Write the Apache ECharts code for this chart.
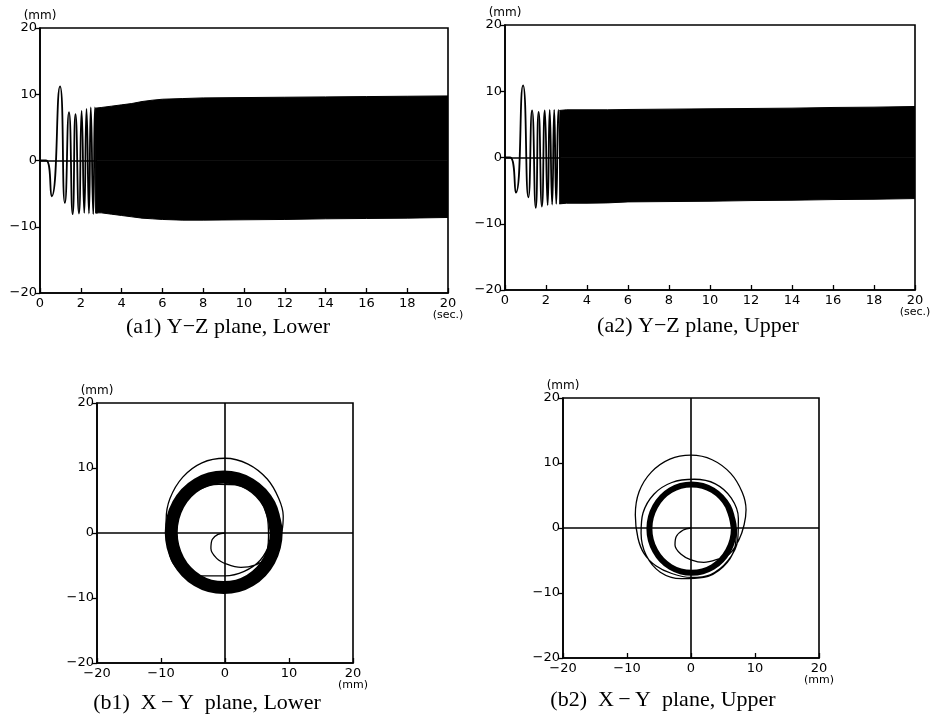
<!DOCTYPE html>
<html><head><meta charset="utf-8">
<script src="https://cdn.jsdelivr.net/npm/echarts@6/dist/echarts.min.js"></script>
<style>html,body{margin:0;padding:0;background:#fff}#c{width:936px;height:720px}</style>
</head><body><div id="c"></div>
<script>
// ---------- tick values ----------
const timeTicks = [0, 2, 4, 6, 8, 10, 12, 14, 16, 18, 20];
const dispTicks = [-20, -10, 0, 10, 20];

// ---------- captions ----------
const captions = ['(a1) Y\u2212Z plane, Lower', '(a2) Y\u2212Z plane, Upper',
                  '(b1)  X\u2009\u2212\u2009Y  plane, Lower', '(b2)  X\u2009\u2212\u2009Y  plane, Upper'];

// ---------- (a1) Y-Z plane, Lower : [time s, displacement mm] ----------
const a1Transient = [[0,0],[0.3,0],[0.57,-5.4],[0.98,11.2],[1.22,-6.4],[1.42,7.3],[1.6,-8.1],
  [1.74,7.0],[1.91,-8.0],[2.04,7.5],[2.17,-7.9],[2.28,7.8],[2.4,-8.0],[2.49,8.0],[2.61,-8.1],[2.69,8.0],[2.78,-8.0]];
const a1Upper = [[2.7,7.9],[3.0,8.0],[3.5,8.2],[4.0,8.4],[4.5,8.6],[5.0,8.9],[5.5,9.1],[6.0,9.25],
  [7.0,9.35],[8.0,9.45],[10,9.5],[12,9.55],[14,9.6],[16,9.65],[18,9.7],[20,9.75]];
const a1Lower = [[2.7,-7.9],[3.0,-7.9],[3.5,-8.1],[4.0,-8.3],[4.5,-8.5],[5.0,-8.7],[5.5,-8.8],[6.0,-8.9],
  [7.0,-9.0],[8.0,-9.0],[10,-8.95],[12,-8.9],[14,-8.8],[16,-8.75],[18,-8.7],[20,-8.6]];

// ---------- (a2) Y-Z plane, Upper ----------
const a2Transient = [[0,0],[0.25,0],[0.53,-5.3],[0.88,10.9],[1.14,-6.0],[1.32,7.1],[1.5,-7.6],
  [1.64,6.9],[1.8,-7.4],[1.94,7.1],[2.08,-7.2],[2.18,7.2],[2.3,-7.1],[2.4,7.2],[2.5,-7.0],[2.6,7.2],[2.7,-7.0]];
const a2Upper = [[2.65,7.1],[3.0,7.2],[4.0,7.2],[5.0,7.2],[6.0,7.25],[8.0,7.3],[10,7.35],[12,7.4],
  [14,7.45],[16,7.55],[18,7.6],[20,7.7]];
const a2Lower = [[2.65,-7.0],[3.0,-6.9],[4.0,-6.9],[5.0,-6.85],[6.0,-6.7],[8.0,-6.65],[10,-6.6],[12,-6.5],
  [14,-6.45],[16,-6.35],[18,-6.3],[20,-6.2]];

// ---------- (b1) X-Y plane, Lower : [X mm, Y mm] ----------
const b1Path = [[0,0],[-1.1,-0.2],[-2.0,-1.0],[-2.2,-2.4],[-1.3,-3.9],[0.3,-4.8],[2.5,-5.3],[4.8,-4.9],
  [6.6,-3.9],[8.0,-2.2],[8.9,0.3],[9.1,2.6],[8.4,5.3],[6.6,8.3],[3.6,10.6],[0,11.5],[-3.6,10.8],
  [-6.6,8.6],[-8.6,5.3],[-9.2,2.0],[-9.0,-1.2],[-8.2,-4.5],[-6.0,-6.4],[-3.0,-6.6],[0,-6.6],[3,-5.9],
  [5.5,-4.2],[7.0,-1.5],[7.4,1.2],[6.8,4.0],[4.8,6.4],[2,7.4],[-1,7.5],[-4,6.7],[-6.6,4.6],[-8,1.5],
  [-8.3,-1.5],[-7.2,-4.8],[-5,-7.0],[-2,-7.8],[1,-7.6],[4,-6.3],[6.2,-3.8],[6.8,-0.5],[6.6,2.5],
  [5.3,5.3],[3,7.0],[0,7.6]];
const b1Ring = [[8.0,0.1],[6.9,4.4],[3.9,7.5],[-0.2,8.6],[-4.3,7.5],[-7.3,4.4],[-8.4,0.1],[-7.3,-4.2],
  [-4.3,-7.3],[-0.2,-8.4],[3.9,-7.3],[6.9,-4.2],[8.0,0.1],[6.9,4.4]];

// ---------- (b2) X-Y plane, Upper ----------
const b2Path = [[0,0],[-1.2,-0.3],[-2.3,-1.3],[-2.5,-2.6],[-1.6,-4.0],[0,-4.9],[2,-5.3],[4.2,-4.8],
  [6,-4.0],[7.5,-1.8],[8.3,0.5],[8.6,2.8],[8.0,5.5],[6.2,8.4],[3.3,10.5],[0,11.2],[-3.3,10.6],
  [-6.2,8.6],[-8.1,5.6],[-8.7,2.0],[-8.3,-1.5],[-7.3,-4.0],[-5.5,-5.8],[-3,-7.0],[0,-7.6],[3,-7.2],
  [5.8,-5.0],[7.3,-1.8],[7.4,1.5],[6.3,4.6],[3.8,6.8],[0.5,7.5],[-3,7.0],[-5.8,5.2],[-7.5,2.3],
  [-7.8,-0.8],[-7,-4.2],[-4.8,-6.8],[-1.5,-7.8],[2,-7.6],[5,-6.0],[6.8,-3.2],[7.1,0]];
const b2Ring = [[6.7,-0.1],[5.8,3.3],[3.4,5.8],[0.1,6.7],[-3.2,5.8],[-5.6,3.3],[-6.5,-0.1],[-5.6,-3.5],
  [-3.2,-6.0],[0.1,-6.9],[3.4,-6.0],[5.8,-3.5],[6.7,-0.1],[5.8,3.3]];

// ---------- chart ----------
const BLACK = '#000';
const SANS = 'DejaVu Sans';
const SERIF = 'Liberation Serif';
const fmtNum = v => String(v).replace('-', '\u2212');

function xAxisCfg(idx, ticks, unit) {
  const maxV = ticks[ticks.length - 1];
  return {
    type: 'value', gridIndex: idx, min: ticks[0], max: maxV, interval: ticks[1] - ticks[0],
    axisLine: { onZero: false, lineStyle: { color: BLACK, width: 1.6 } },
    axisTick: { inside: true, length: 5, lineStyle: { color: BLACK, width: 1.3 } },
    splitLine: { show: false },
    axisLabel: {
      margin: 4, color: BLACK, fontFamily: SANS, fontSize: 13,
      formatter: v => v === maxV ? '{n|' + fmtNum(v) + '}\n{u|' + unit + '}' : '{n|' + fmtNum(v) + '}',
      rich: { n: { fontFamily: SANS, fontSize: 13, lineHeight: 13, color: BLACK },
              u: { fontFamily: SANS, fontSize: 11, lineHeight: 11, color: BLACK } }
    }
  };
}
function yAxisCfg(idx) {
  return {
    type: 'value', gridIndex: idx, min: dispTicks[0], max: dispTicks[dispTicks.length - 1],
    interval: dispTicks[1] - dispTicks[0],
    name: '(mm)', nameLocation: 'end', nameGap: 4,
    nameTextStyle: { color: BLACK, fontFamily: SANS, fontSize: 12, align: 'center' },
    axisLine: { onZero: false, lineStyle: { color: BLACK, width: 1.6 } },
    axisTick: { inside: false, length: 5, lineStyle: { color: BLACK, width: 1.3 } },
    splitLine: { show: false },
    axisLabel: { margin: 3, color: BLACK, fontFamily: SANS, fontSize: 13, formatter: fmtNum }
  };
}
const gridBase = { show: true, borderColor: BLACK, borderWidth: 1.6, backgroundColor: 'transparent', containLabel: false, outerBoundsMode: 'none' };

function thinLine(name, idx, data, w, sm) {
  return { name, type: 'line', xAxisIndex: idx, yAxisIndex: idx, data, showSymbol: false, symbol: 'none',
    smooth: sm, lineStyle: { color: BLACK, width: w }, silent: true, z: 3 };
}
function bandHalf(name, idx, data) {
  return { name, type: 'line', xAxisIndex: idx, yAxisIndex: idx, data, showSymbol: false, symbol: 'none',
    lineStyle: { color: BLACK, width: 1 }, areaStyle: { color: BLACK, opacity: 1 }, silent: true, z: 2 };
}
function zeroLines(idx, both) {
  const d = [{ yAxis: 0 }];
  if (both) d.push({ xAxis: 0 });
  return { type: 'line', xAxisIndex: idx, yAxisIndex: idx, data: [], silent: true, z: 1,
    markLine: { silent: true, symbol: 'none', label: { show: false },
      lineStyle: { color: BLACK, width: 1.6, type: 'solid' }, data: d } };
}
function caption(text, x, y) {
  return { type: 'text', x, y, style: { text, align: 'center', verticalAlign: 'middle',
    fontFamily: SERIF, fontSize: 22, fill: BLACK } };
}

const option = {
  backgroundColor: '#fff',
  animation: false,
  grid: [
    Object.assign({ left: 40, top: 28, width: 408, height: 265 }, gridBase),
    Object.assign({ left: 505, top: 25, width: 410, height: 265 }, gridBase),
    Object.assign({ left: 97, top: 403, width: 256, height: 260 }, gridBase),
    Object.assign({ left: 563, top: 398, width: 256, height: 260 }, gridBase)
  ],
  xAxis: [xAxisCfg(0, timeTicks, '(sec.)'), xAxisCfg(1, timeTicks, '(sec.)'),
          xAxisCfg(2, dispTicks, '(mm)'), xAxisCfg(3, dispTicks, '(mm)')],
  yAxis: [yAxisCfg(0), yAxisCfg(1), yAxisCfg(2), yAxisCfg(3)],
  series: [
    zeroLines(0, false), bandHalf('a1 upper', 0, a1Upper), bandHalf('a1 lower', 0, a1Lower),
    thinLine('a1', 0, a1Transient, 1.8, 0.6),
    zeroLines(1, false), bandHalf('a2 upper', 1, a2Upper), bandHalf('a2 lower', 1, a2Lower),
    thinLine('a2', 1, a2Transient, 1.8, 0.6),
    zeroLines(2, true), thinLine('b1', 2, b1Path, 1.3, 0.35),
    thinLine('b1 ring', 2, b1Ring, 13, 0.35),
    zeroLines(3, true), thinLine('b2', 3, b2Path, 1.3, 0.35),
    thinLine('b2 ring', 3, b2Ring, 6, 0.35)
  ],
  graphic: [
    caption(captions[0], 228, 327), caption(captions[1], 698, 326),
    caption(captions[2], 207, 703), caption(captions[3], 663, 700)
  ]
};
const chart = echarts.init(document.getElementById('c'), null, { renderer: 'canvas' });
chart.setOption(option);
</script>
</body></html>
